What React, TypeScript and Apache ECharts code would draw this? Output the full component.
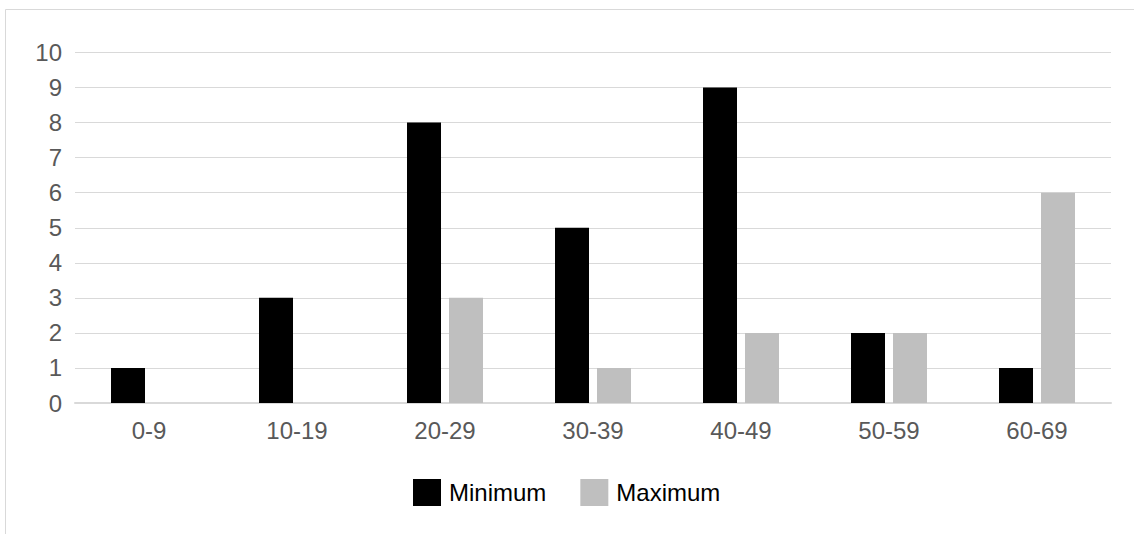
import React, { useEffect, useRef } from "react";
import * as echarts from "echarts";

const categories = ["0-9", "10-19", "20-29", "30-39", "40-49", "50-59", "60-69"];
const minimumValues = [1, 3, 8, 5, 9, 2, 1];
const maximumValues = [0, 0, 3, 1, 2, 2, 6];
const yTicks = { min: 0, max: 10, interval: 1 };

const FONT = "'Liberation Sans', Arial, Helvetica, sans-serif";

export default function App() {
  const ref = useRef<HTMLDivElement>(null);

  useEffect(() => {
    if (!ref.current) return;
    const chart = echarts.init(ref.current, undefined, { renderer: "svg" });
    chart.setOption({
      animation: false,
      backgroundColor: "#ffffff",
      textStyle: { fontFamily: FONT },
      graphic: [
        {
          type: "rect",
          shape: { x: 5.5, y: 9.5, width: 1300, height: 700 },
          style: { fill: "none", stroke: "#d9d9d9", lineWidth: 1 },
          silent: true,
        },
      ],
      grid: { left: 75, right: 23, top: 52.5, bottom: 131, containLabel: false },
      legend: {
        top: 479,
        left: 413,
        padding: 0,
        itemWidth: 28,
        itemHeight: 27,
        itemGap: 34,
        icon: "rect",
        textStyle: { fontSize: 24, color: "#000000", fontFamily: FONT, padding: [0, 0, 0, 3] },
        data: ["Minimum", "Maximum"],
      },
      xAxis: {
        type: "category",
        data: categories,
        axisLine: { show: true, lineStyle: { color: "#d9d9d9", width: 2 } },
        axisTick: { show: false },
        axisLabel: { fontSize: 24, color: "#595959", margin: 15, fontFamily: FONT },
      },
      yAxis: {
        type: "value",
        min: yTicks.min,
        max: yTicks.max,
        interval: yTicks.interval,
        axisLine: { show: false },
        axisTick: { show: false },
        splitLine: { lineStyle: { color: "#d9d9d9", width: 1 } },
        axisLabel: { fontSize: 24, color: "#595959", margin: 13, fontFamily: FONT },
      },
      series: [
        {
          name: "Minimum",
          type: "bar",
          data: minimumValues,
          barWidth: 34,
          barGap: "23.5%",
          itemStyle: { color: "#000000" },
        },
        {
          name: "Maximum",
          type: "bar",
          data: maximumValues,
          barWidth: 34,
          itemStyle: { color: "#bfbfbf" },
        },
      ],
    });
    return () => chart.dispose();
  }, []);

  return (
    <div
      ref={ref}
      style={{ position: "fixed", left: 0, top: 0, width: 1134, height: 534 }}
    />
  );
}
